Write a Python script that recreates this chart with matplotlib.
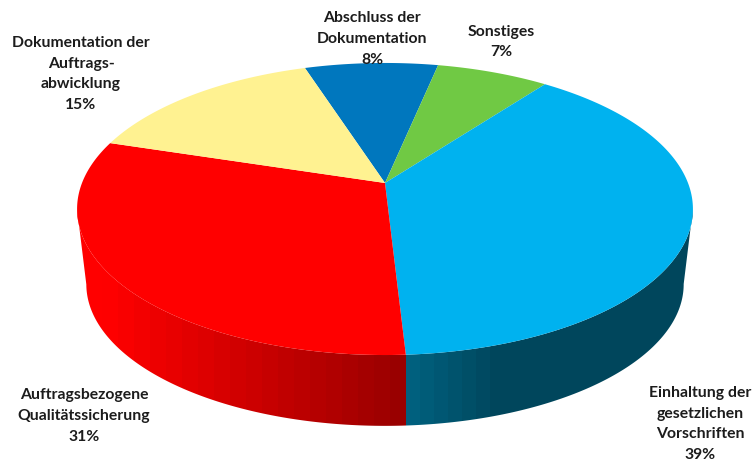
import matplotlib
matplotlib.use("Agg")
import matplotlib.pyplot as plt
import numpy as np

# slices, clockwise from the back of the pie
labels = ["Abschluss der\nDokumentation\n8%", "Sonstiges\n7%", "Einhaltung der\ngesetzlichen\nVorschriften\n39%",
          "Auftragsbezogene\nQualitätssicherung\n31%", "Dokumentation der\nAuftrags-\nabwicklung\n15%"]
values = [8.3, 7.0, 38.8, 30.7, 15.2]
colors = ["#0077be", "#70c944", "#00b2ef", "#ff0000", "#fff291"]
label_x = [372, 501, 700, 84, 81]
label_y = [39, 42, 424, 416, 74]

start_angle = -18.0
# perspective of the disc, in pixels
cx, cy = 385, 183
a, b, k = 303, 141.4, 0.178
depth, shrink = 76, 0.97


def ring(theta, dy=0, s=1.0):
    t = np.radians(theta)
    d = 1 + k * np.cos(t)
    return cx + s * a * np.sin(t) / d, cy + dy - s * b * np.cos(t) / d


def red_shade(x):
    f = np.clip((x - 100) / 290, 0, 1)
    return (1 - 0.40 * f, 0, 0)


def blue_shade(x):
    f = np.clip((x - 406) / 84, 0, 1)
    return (0, (96 - 26 * f) / 255, (126 - 34 * f) / 255)


fig = plt.figure(figsize=(7.55, 4.61), dpi=100)
ax = fig.add_axes([0, 0, 1, 1])
ax.axis("off")

edges = start_angle + np.cumsum([0] + values) * 3.6

# outline of the side wall, between the outer points of top and bottom ring
th = np.linspace(60, 300, 1500)
xt, yt = ring(th)
xb, yb = ring(th, depth, shrink)
r0, r1 = np.argmax(xt), np.argmin(xt)
b0, b1 = np.argmax(xb), np.argmin(xb)
wall = ax.fill(np.r_[xt[r0:r1], xb[b0:b1][::-1]], np.r_[yt[r0:r1], yb[b0:b1][::-1]], color="none", lw=0)[0]

# wall shading comes in vertical bands, split at the red/blue edge
split = ring(edges[3])[0]
for x0 in np.arange(split - 16 * 25, split, 16):
    s = ax.axvspan(x0, x0 + 16.4, color=red_shade(x0), lw=0)
    s.set_clip_path(wall)
for x0 in np.arange(split, split + 14 * 25, 14):
    s = ax.axvspan(x0, x0 + 14.4, color=blue_shade(x0), lw=0)
    s.set_clip_path(wall)

# top of the disc
for i, c in enumerate(colors):
    th = np.linspace(edges[i], edges[i + 1], 200)
    xs, ys = ring(th)
    ax.fill(np.r_[cx, xs], np.r_[cy, ys], color=c, lw=0)

for s, x, y in zip(labels, label_x, label_y):
    ax.text(x, y, s, ha="center", va="center", fontsize=11.3, fontweight="bold",
            family="Lato", color="#1c1c1c", linespacing=1.6)

ax.set_xlim(0, 755)
ax.set_ylim(461, 0)
fig.savefig("out.png", dpi=100)
